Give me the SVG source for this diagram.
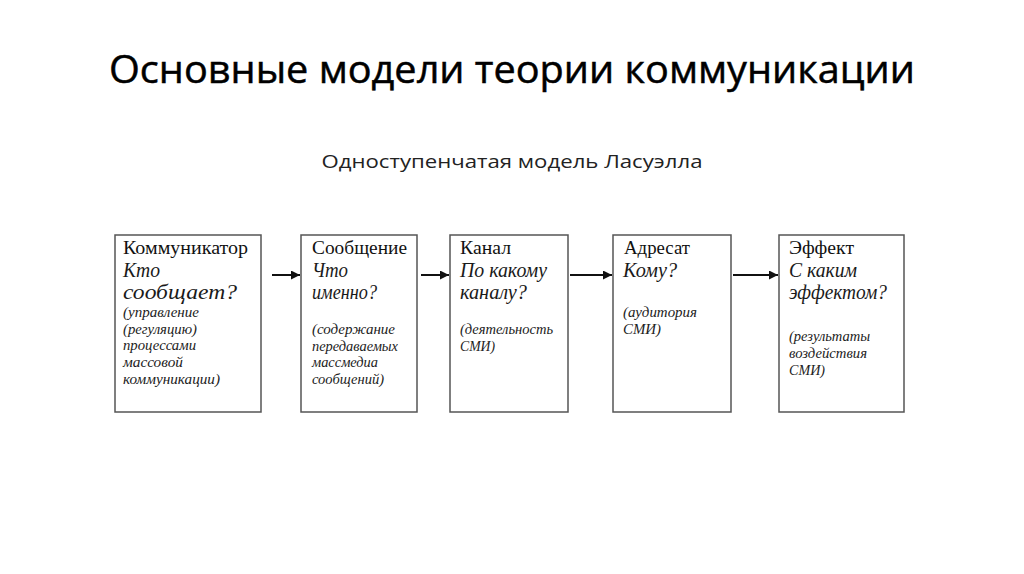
<svg xmlns="http://www.w3.org/2000/svg" width="1024" height="574" viewBox="0 0 1024 574">
<style>
.title{font-family:"Open Sans","Noto Sans",sans-serif;font-size:39px;fill:#000;stroke:#000;stroke-width:0.5}
.sub{font-family:"Open Sans","Noto Sans",sans-serif;font-size:19px;fill:#222}
.box{fill:#fff;stroke:#555;stroke-width:1.5}
.h{font-family:"Liberation Serif",serif;font-size:19.5px;fill:#111}
.q{font-family:"Liberation Serif",serif;font-size:20px;font-style:italic;fill:#1a1a1a}
.s{font-family:"Liberation Serif",serif;font-size:14.5px;font-style:italic;fill:#222}
.c{stroke:#111;stroke-width:2;fill:none}
</style>
<defs>
<marker id="ar" viewBox="0 0 10 10" refX="10" refY="5" markerWidth="5" markerHeight="4.5" orient="auto" markerUnits="strokeWidth">
<path d="M0,0 L10,5 L0,10 z" fill="#111"/>
</marker>
</defs>
<rect width="1024" height="574" fill="#fff"/>
<text class="title" x="512" y="83" text-anchor="middle" textLength="806" lengthAdjust="spacingAndGlyphs">Основные модели теории коммуникации</text>
<text class="sub" x="512" y="168" text-anchor="middle" textLength="381" lengthAdjust="spacingAndGlyphs">Одноступенчатая модель Ласуэлла</text>
<g id="n1">
<rect class="box" x="115" y="235" width="146" height="177"/>
<text class="h" x="123" y="254" textLength="125" lengthAdjust="spacingAndGlyphs">Коммуникатор</text>
<text class="q" x="123" y="277" textLength="37" lengthAdjust="spacingAndGlyphs">Кто</text>
<text class="q" x="123" y="299" textLength="114" lengthAdjust="spacingAndGlyphs">сообщает?</text>
<text class="s" x="123" y="317" textLength="76" lengthAdjust="spacingAndGlyphs">(управление</text>
<text class="s" x="123" y="334" textLength="74" lengthAdjust="spacingAndGlyphs">(регуляцию)</text>
<text class="s" x="123" y="350" textLength="73" lengthAdjust="spacingAndGlyphs">процессами</text>
<text class="s" x="123" y="367" textLength="60" lengthAdjust="spacingAndGlyphs">массовой</text>
<text class="s" x="123" y="384" textLength="97" lengthAdjust="spacingAndGlyphs">коммуникации)</text>
</g>
<g id="n2">
<rect class="box" x="301" y="235" width="116" height="177"/>
<text class="h" x="312" y="254" textLength="95" lengthAdjust="spacingAndGlyphs">Сообщение</text>
<text class="q" x="312" y="277" textLength="36" lengthAdjust="spacingAndGlyphs">Что</text>
<text class="q" x="312" y="299" textLength="65" lengthAdjust="spacingAndGlyphs">именно?</text>
<text class="s" x="312" y="334" textLength="83" lengthAdjust="spacingAndGlyphs">(содержание</text>
<text class="s" x="312" y="351" textLength="86" lengthAdjust="spacingAndGlyphs">передаваемых</text>
<text class="s" x="312" y="367" textLength="66" lengthAdjust="spacingAndGlyphs">массмедиа</text>
<text class="s" x="312" y="384" textLength="72" lengthAdjust="spacingAndGlyphs">сообщений)</text>
</g>
<g id="n3">
<rect class="box" x="450" y="235" width="118" height="177"/>
<text class="h" x="460" y="254" textLength="51" lengthAdjust="spacingAndGlyphs">Канал</text>
<text class="q" x="460" y="277" textLength="87" lengthAdjust="spacingAndGlyphs">По какому</text>
<text class="q" x="460" y="299" textLength="67" lengthAdjust="spacingAndGlyphs">каналу?</text>
<text class="s" x="460" y="334" textLength="93" lengthAdjust="spacingAndGlyphs">(деятельность</text>
<text class="s" x="460" y="351" textLength="35" lengthAdjust="spacingAndGlyphs">СМИ)</text>
</g>
<g id="n4">
<rect class="box" x="613" y="235" width="118" height="177"/>
<text class="h" x="624" y="254" textLength="66" lengthAdjust="spacingAndGlyphs">Адресат</text>
<text class="q" x="623" y="277" textLength="54" lengthAdjust="spacingAndGlyphs">Кому?</text>
<text class="s" x="623" y="317" textLength="74" lengthAdjust="spacingAndGlyphs">(аудитория</text>
<text class="s" x="623" y="334" textLength="38" lengthAdjust="spacingAndGlyphs">СМИ)</text>
</g>
<g id="n5">
<rect class="box" x="779" y="235" width="125" height="177"/>
<text class="h" x="789" y="254" textLength="65" lengthAdjust="spacingAndGlyphs">Эффект</text>
<text class="q" x="789" y="277" textLength="68" lengthAdjust="spacingAndGlyphs">С каким</text>
<text class="q" x="789" y="299" textLength="98" lengthAdjust="spacingAndGlyphs">эффектом?</text>
<text class="s" x="789" y="341" textLength="81" lengthAdjust="spacingAndGlyphs">(результаты</text>
<text class="s" x="789" y="358" textLength="78" lengthAdjust="spacingAndGlyphs">воздействия</text>
<text class="s" x="789" y="375" textLength="36" lengthAdjust="spacingAndGlyphs">СМИ)</text>
</g>
<g id="connectors">
<line class="c" x1="272" y1="275" x2="300" y2="275" marker-end="url(#ar)"/>
<line class="c" x1="421" y1="275" x2="449" y2="275" marker-end="url(#ar)"/>
<line class="c" x1="570" y1="275" x2="612" y2="275" marker-end="url(#ar)"/>
<line class="c" x1="733" y1="275" x2="778" y2="275" marker-end="url(#ar)"/>
</g>
</svg>
